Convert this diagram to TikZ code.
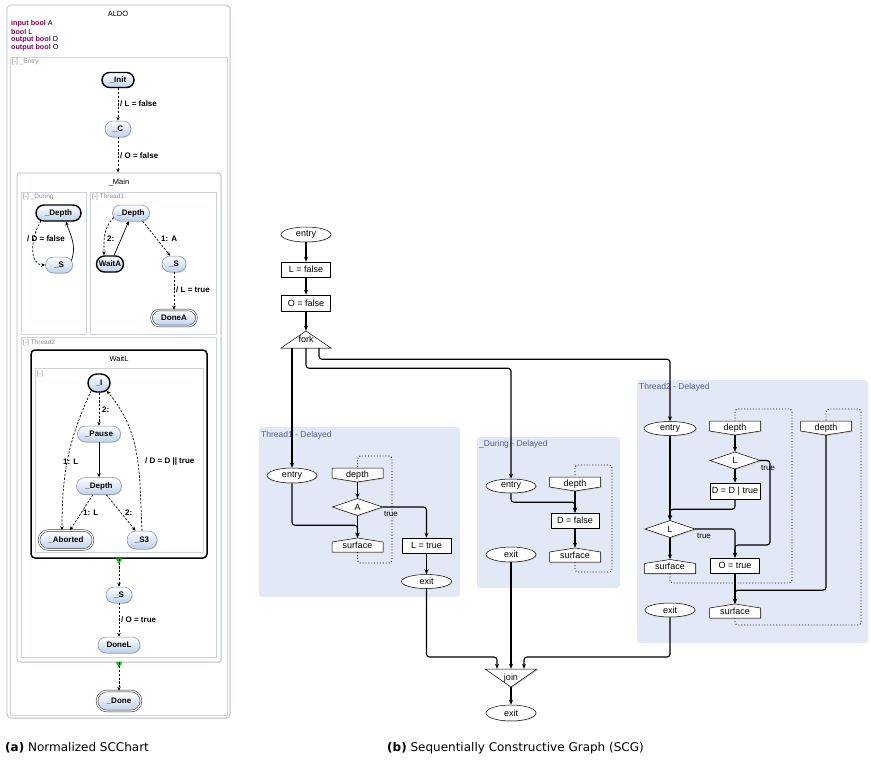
\documentclass[tikz,border=0pt]{standalone}
\usepackage{fontspec}
\setmainfont{Liberation Sans}
\newfontfamily\capfont{DejaVu Sans}
\usetikzlibrary{arrows.meta,shapes.geometric,shapes.misc,calc,shadows}
\definecolor{stfill}{RGB}{190,208,236}
\definecolor{stdraw}{RGB}{125,140,165}
\definecolor{regdraw}{RGB}{205,210,220}
\definecolor{boxdraw}{RGB}{175,186,205}
\definecolor{kw}{RGB}{127,0,85}
\definecolor{scgreg}{RGB}{226,232,245}
\definecolor{scgtitle}{RGB}{80,95,145}
\definecolor{mkgreen}{RGB}{40,190,40}

\newcommand\scgdepth[4]{%
  \fill[black!20] ({#2-24.5},{#3-6}) -- ({#2+26.5},{#3-6}) -- ({#2+26.5},{#3+4}) -- ({#2+1},{#3+8}) -- ({#2-24.5},{#3+4}) -- cycle;
  \draw[line width=0.5pt,fill=white] ({#2-25.5},{#3-7}) -- ({#2+25.5},{#3-7}) -- ({#2+25.5},{#3+3}) -- (#2,{#3+7}) -- ({#2-25.5},{#3+3}) -- cycle;
  \node[scgtxt,minimum width=51pt,minimum height=14pt] (#1) at (#2,#3) {\raisebox{1pt}{#4}};}
\newcommand\scgsurf[4]{%
  \fill[black!20] ({#2+1},{#3-6}) -- ({#2+26.5},{#3-2}) -- ({#2+26.5},{#3+8}) -- ({#2-24.5},{#3+8}) -- ({#2-24.5},{#3-2}) -- cycle;
  \draw[line width=0.5pt,fill=white] (#2,{#3-7}) -- ({#2+25.5},{#3-3}) -- ({#2+25.5},{#3+7}) -- ({#2-25.5},{#3+7}) -- ({#2-25.5},{#3-3}) -- cycle;
  \node[scgtxt,minimum width=51pt,minimum height=14pt] (#1) at (#2,#3) {\raisebox{-1pt}{#4}};}
\newcommand\scgdiam[4]{%
  \fill[black!20] ({#2+1},{#3-7.5}) -- ({#2+26},{#3+1}) -- ({#2+1},{#3+9.5}) -- ({#2-24},{#3+1}) -- cycle;
  \draw[line width=0.5pt,fill=white] (#2,{#3-8.5}) -- ({#2+25},#3) -- (#2,{#3+8.5}) -- ({#2-25},#3) -- cycle;
  \node[scgtxt,minimum width=50pt,minimum height=17pt] (#1) at (#2,#3) {#4};}

\begin{document}
\begin{tikzpicture}[x=1pt,y=-1pt,
  state/.style={rounded rectangle, draw=stdraw, line width=0.5pt, top color=white, bottom color=stfill,
    font=\fontsize{8}{9}\selectfont\bfseries, inner sep=0pt, minimum height=16pt,
    drop shadow={shadow xshift=0.8pt,shadow yshift=-0.8pt,opacity=0.25}},
  initst/.style={state, draw=black, line width=1.4pt},
  finalst/.style={state, draw=black!85, double=white, double distance=1.2pt, line width=0.5pt},
  trlabel/.style={font=\fontsize{8}{9}\selectfont\bfseries, anchor=west, inner sep=0pt},
  dtrans/.style={line width=0.7pt, dash pattern=on 2.2pt off 1.6pt, -{Stealth[length=4pt,width=3.4pt]}},
  strans/.style={line width=0.7pt, -{Stealth[length=4pt,width=3.4pt]}},
  regtitle/.style={font=\fontsize{6.5}{7}\selectfont, text=black!45, anchor=west, inner sep=0pt},
  region/.style={draw=regdraw, fill=white, line width=0.6pt, inner sep=0pt},
  superbox/.style={draw=boxdraw, fill=white, rounded corners=3pt, line width=0.7pt, inner sep=0pt,
    drop shadow={shadow xshift=0.8pt,shadow yshift=-0.8pt,opacity=0.2}},
  decl/.style={font=\fontsize{7.2}{8}\selectfont, anchor=west, inner sep=0pt},
  scgnode/.style={draw, fill=white, line width=0.5pt, font=\fontsize{9}{10}\selectfont, inner sep=0pt,
    drop shadow={shadow xshift=0.9pt,shadow yshift=-0.9pt,opacity=0.22}},
  scgbox/.style={scgnode, rectangle},
  scgell/.style={scgnode, ellipse},
  scgtxt/.style={font=\fontsize{9}{10}\selectfont, inner sep=0pt},
  scg/.style={line width=1.1pt, rounded corners=3pt, -{Stealth[length=5pt,width=4pt]}},
  loopline/.style={line width=0.9pt, dotted, rounded corners=3pt},
  scgregion/.style={fill=scgreg, rounded corners=3pt},
  scgreglabel/.style={font=\fontsize{8.5}{9}\selectfont, text=scgtitle, anchor=west, inner sep=0pt},
  truelabel/.style={font=\fontsize{8}{9}\selectfont, inner sep=0pt},
  capstyle/.style={font=\capfont\fontsize{12}{14}\selectfont, anchor=west, inner sep=0pt}]
\useasboundingbox (0,0) rectangle (871,766);

% ================= (a) SCChart =================
\node[superbox, rounded corners=4pt, minimum width=223pt, minimum height=713pt] (aldo) at (118.5,361.5) {};
\node[font=\fontsize{7.5}{8}\selectfont, inner sep=0pt] (aldot) at (118,14) {ALDO};
\node[decl] (dc1) at (11,24) {\textcolor{kw}{\bfseries input bool} A};
\node[decl] (dc2) at (11,32) {\textcolor{kw}{\bfseries bool} L};
\node[decl] (dc3) at (11,40) {\textcolor{kw}{\bfseries output bool} D};
\node[decl] (dc4) at (11,48) {\textcolor{kw}{\bfseries output bool} O};

\node[region, minimum width=217pt, minimum height=658pt] (entryreg) at (118.5,386) {};
\node[regtitle] (entryt) at (12,62) {[-] \_Entry};

\node[superbox, minimum width=204pt, minimum height=489pt] (main) at (119,417.5) {};
\node[font=\fontsize{7.5}{8}\selectfont, inner sep=0pt] (maint) at (119,183) {\_Main};
\node[region, minimum width=65pt, minimum height=142pt] (durreg) at (53.5,263) {};
\node[regtitle] (durt) at (23,197) {[-] \_During};
\node[region, minimum width=126pt, minimum height=142pt] (t1reg) at (153,263) {};
\node[regtitle] (t1t) at (92,197) {[-] Thread1};
\node[region, minimum width=195pt, minimum height=320pt] (t2reg) at (118.5,497) {};
\node[regtitle] (t2t) at (23,343) {[-] Thread2};

\node[draw=black, line width=1.5pt, rounded corners=4pt, fill=white, minimum width=176pt, minimum height=208pt, inner sep=0pt] (waitl) at (119,454) {};
\node[font=\fontsize{7.5}{8}\selectfont, inner sep=0pt] (waitlt) at (119,359) {WaitL};
\node[region, minimum width=168pt, minimum height=184pt] (wreg) at (119,460) {};
\node[regtitle] (wregt) at (37,374) {[-]};

% states
\node[initst, minimum width=32pt, minimum height=15pt] (init) at (118,80) {\_Init};
\node[state, minimum width=26pt] (c) at (118,129) {\_C};
\node[initst, minimum width=45pt] (ddep) at (58.5,213) {\_Depth};
\node[state, minimum width=27pt] (ds) at (59,265) {\_S};
\node[state, minimum width=37pt] (tdep) at (131,213) {\_Depth};
\node[initst, minimum width=27pt] (waita) at (110,264) {WaitA};
\node[state, minimum width=24pt] (ts) at (174,264) {\_S};
\node[finalst, minimum width=45pt] (donea) at (174,318) {DoneA};
\node[initst, minimum width=22pt, minimum height=18pt] (wi) at (99,383) {\_I};
\node[state, minimum width=43pt] (pause) at (99,434) {\_Pause};
\node[state, minimum width=45pt, minimum height=17pt] (wdep) at (99,486) {\_Depth};
\node[finalst, minimum width=54pt, minimum height=19pt] (aborted) at (66,540) {\_Aborted};
\node[state, minimum width=30pt, minimum height=18pt] (s3) at (142,540) {\_S3};
\node[state, minimum width=26pt] (ls) at (119,595) {\_S};
\node[state, minimum width=42pt] (donel) at (119,645) {DoneL};
\node[finalst, minimum width=44pt, minimum height=20pt] (done) at (119,701) {\_Done};

% transitions
\draw[dtrans] (init.south) -- (c.north);
\node[trlabel] (lb1) at (120,104) {/ L = false};
\draw[dtrans] (c.south) -- (c.south |- main.north);
\node[trlabel] (lb2) at (120,156) {/ O = false};

\draw[dtrans] (ddep.205) to[out=235,in=180] (ds.west);
\node[trlabel] (lb3) at (27,239) {/ D = false};
\draw[strans] (ds.20) to[out=70,in=-70] (ddep.-50);

\draw[dtrans] (tdep.195) to[out=225,in=90] (waita.125);
\node[trlabel] (lb4) at (107,239) {2:};
\draw[strans] (waita.65) -- (tdep.-105);
\draw[dtrans] (tdep.-35) -- (ts.115);
\node[trlabel] (lb5) at (161,239) {1: A};
\draw[dtrans] (ts.south) -- (donea.north);
\node[trlabel] (lb6) at (176,290) {/ L = true};

\draw[dtrans] (wi.south) -- (pause.north);
\node[trlabel] (lb7) at (102,410) {2:};
\draw[strans] (pause.south) -- (wdep.north);
\draw[dtrans] (wi.225) to[out=245,in=90] ([xshift=-4pt]aborted.north);
\node[trlabel] (lb8) at (63,462) {1: L};
\draw[dtrans] (wdep.235) -- ([xshift=4pt]aborted.north);
\node[trlabel] (lb9) at (83,513) {1: L};
\draw[dtrans] (wdep.-50) -- (s3.125);
\node[trlabel] (lb10) at (125,513) {2:};
\draw[dtrans] (s3.north) to[out=93,in=-50] (wi.-45);
\node[trlabel] (lb11) at (145,461) {/ D = D || true};

\fill[mkgreen] ($(waitl.south)+(-3.5,-0.5)$) -- ($(waitl.south)+(3.5,-0.5)$) -- ($(waitl.south)+(0,5.5)$) -- cycle;
\draw[dtrans] (waitl.south) -- (ls.north);
\draw[dtrans] (ls.south) -- (donel.north);
\node[trlabel] (lb12) at (121,620) {/ O = true};
\fill[mkgreen] ($(main.south)+(-3.5,-0.5)$) -- ($(main.south)+(3.5,-0.5)$) -- ($(main.south)+(0,5.5)$) -- cycle;
\draw[dtrans] (main.south) -- (done.north);

% ================= (b) SCG =================
\fill[scgregion] (259,427) rectangle (460,597);
\fill[scgregion] (477,437) rectangle (620,588);
\fill[scgregion] (637,380) rectangle (868,643);
\node[scgreglabel] (rt1) at (261,435) {Thread1 - Delayed};
\node[scgreglabel] (rt2) at (479,444) {\_During - Delayed};
\node[scgreglabel] (rt3) at (639,387) {Thread2 - Delayed};

\node[scgell, minimum width=50pt, minimum height=15pt] (entry0) at (306,234.5) {entry};
\node[scgbox, minimum width=49pt, minimum height=15pt] (lf) at (306,269.5) {L = false};
\node[scgbox, minimum width=49pt, minimum height=16pt] (of) at (306,303) {O = false};
\fill[black!20] (307,332) -- (332,349) -- (282,349) -- cycle;
\draw[line width=0.5pt, fill=white] (306,331) -- (331,348) -- (281,348) -- cycle;
\node[scgtxt, minimum width=50pt, minimum height=17pt] (fork) at (306,339.5) {\raisebox{-2pt}{fork}};

% Thread1
\node[scgell, minimum width=50pt, minimum height=15pt] (t1entry) at (292,475.5) {entry};
\scgdepth{t1depth}{357.5}{475}{depth}
\scgdiam{t1A}{357.5}{507}{A}
\scgsurf{t1surf}{357.5}{545}{surface}
\node[scgbox, minimum width=49pt, minimum height=15pt] (t1L) at (426.5,545.5) {L = true};
\node[scgell, minimum width=50pt, minimum height=14pt] (t1exit) at (426.5,581.5) {exit};
\node[truelabel] (tr1) at (391,514) {true};

% During
\node[scgell, minimum width=50pt, minimum height=14pt] (dentry) at (511,486) {entry};
\scgdepth{ddepth}{575}{484}{depth}
\node[scgbox, minimum width=48pt, minimum height=15pt] (dD) at (575,520.5) {D = false};
\node[scgell, minimum width=50pt, minimum height=15pt] (dexit) at (511,554.5) {exit};
\scgsurf{dsurf}{575}{555}{surface}

% Thread2
\node[scgell, minimum width=52pt, minimum height=14pt] (t2entry) at (670,428.5) {entry};
\scgdepth{t2depth1}{735}{428}{depth}
\scgdiam{t2L1}{735}{460.5}{L}
\node[scgbox, minimum width=50pt, minimum height=16pt] (t2DD) at (735,491) {D = D | true};
\scgdepth{t2depth2}{826}{428}{depth}
\scgdiam{t2L2}{670}{529}{L}
\scgsurf{t2surf1}{670}{566.5}{surface}
\node[scgbox, minimum width=49pt, minimum height=15pt] (t2O) at (735,565.5) {O = true};
\node[scgell, minimum width=50pt, minimum height=14pt] (t2exit) at (670,610) {exit};
\scgsurf{t2surf2}{735}{611}{surface}
\node[truelabel] (tr2) at (768,468) {true};
\node[truelabel] (tr3) at (704,536) {true};

% join
\fill[black!20] (486,670) -- (538,670) -- (512,688) -- cycle;
\draw[line width=0.5pt, fill=white] (485,669) -- (537,669) -- (511,687) -- cycle;
\node[scgtxt, minimum width=52pt, minimum height=18pt] (join) at (511,678) {\raisebox{2pt}{join}};
\node[scgell, minimum width=50pt, minimum height=16pt] (jexit) at (511,713) {exit};

% SCG edges
\draw[scg] (entry0.south) -- (lf.north);
\draw[scg] (lf.south) -- (of.north);
\draw[scg] (of.south) -- (fork.north);
\draw[scg] ([xshift=-14pt]fork.south) -- (t1entry.north);
\draw[scg] (fork.south) -- ++(0,20) -| (dentry.north);
\draw[scg] ([xshift=13pt]fork.south) -- ++(0,11) -| (t2entry.north);

\draw[scg] (t1entry.south) -- ++(0,42) -| (t1surf.north);
\draw[scg] (t1depth.south) -- (t1A.north);
\draw[scg] (t1A.south) -- (t1surf.north);
\draw[scg] (t1A.east) -| (t1L.north);
\draw[scg] (t1L.south) -- (t1exit.north);
\draw[loopline] (t1surf.south) |- (392,563) |- (357.5,456) -- (t1depth.north);

\draw[scg] (dentry.south) -- ++(0,9) -| (dD.north);
\draw[scg] (ddepth.south) -- (dD.north);
\draw[scg] (dD.south) -- (dsurf.north);
\draw[loopline] (dsurf.south) |- (612,572) |- (575,465) -- (ddepth.north);

\draw[scg] (t2entry.south) -- (t2L2.north);
\draw[scg] (t2DD.south) -- ++(0,10) -| (t2L2.north);
\draw[scg] (t2depth1.south) -- (t2L1.north);
\draw[scg] (t2L1.south) -- (t2DD.north);
\draw[scg] (t2L1.east) -| (770,545) -| (t2O.north);
\draw[scg] (t2L2.east) -| (t2O.north);
\draw[scg] (t2L2.south) -- (t2surf1.north);
\draw[scg] (t2O.south) -- (t2surf2.north);
\draw[scg] (t2depth2.south) -- ++(0,155) -| (t2surf2.north);
\draw[loopline] (t2surf1.south) |- (792,583) |- (735,409) -- (t2depth1.north);
\draw[loopline] (t2surf2.south) |- (861,625) |- (826,409) -- (t2depth2.north);

\draw[scg] (t1exit.south) |- (497,657) -- ([xshift=-14pt]join.north);
\draw[scg] (dexit.south) -- (join.north);
\draw[scg] (t2exit.south) |- (524,657) -- ([xshift=13pt]join.north);
\draw[scg] (join.south) -- (jexit.north);

% captions
\node[capstyle] (capa) at (5,748) {\textbf{(a)} Normalized SCChart};
\node[capstyle] (capb) at (387,748) {\textbf{(b)} Sequentially Constructive Graph (SCG)};
\end{tikzpicture}
\end{document}
